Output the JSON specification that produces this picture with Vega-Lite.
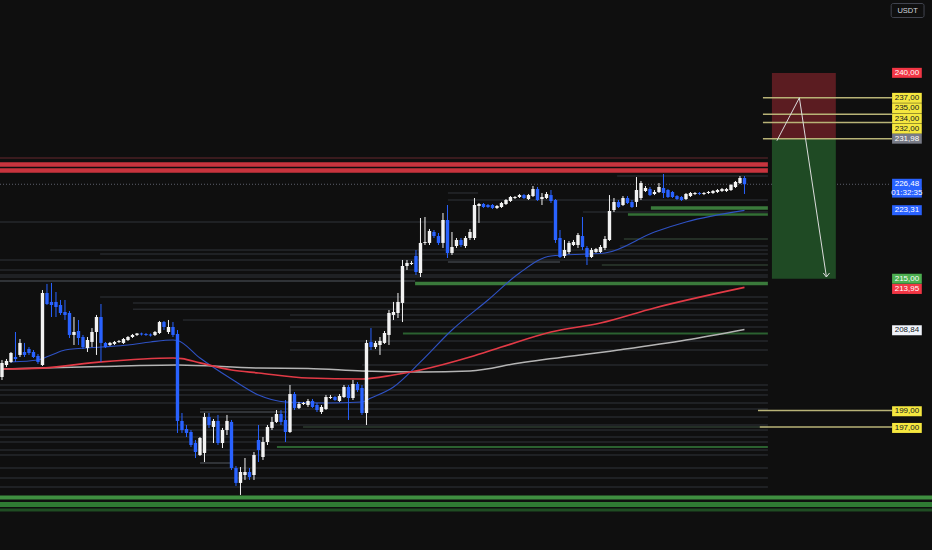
{
  "$schema": "https://vega.github.io/schema/vega-lite/v6.json",
  "description": "Candlestick chart with levels, moving averages and a short position box",
  "width": 932,
  "height": 550,
  "autosize": {"type": "none"},
  "padding": 0,
  "background": "#0f0f0f",
  "config": {"view": {"stroke": null}, "text": {"font": "Liberation Sans"}},
  "datasets": {
    "candles": [
      {"i":0,"o":203.06,"h":205.13,"l":202.70,"c":204.77},
      {"i":1,"o":204.52,"h":205.25,"l":204.28,"c":205.01},
      {"i":2,"o":204.89,"h":206.10,"l":204.77,"c":205.98},
      {"i":3,"o":205.49,"h":208.53,"l":204.89,"c":205.25},
      {"i":4,"o":205.74,"h":207.68,"l":205.49,"c":207.20},
      {"i":5,"o":206.10,"h":207.20,"l":205.49,"c":205.74},
      {"i":6,"o":206.46,"h":206.70,"l":205.74,"c":205.98},
      {"i":7,"o":206.10,"h":206.34,"l":205.37,"c":205.49},
      {"i":8,"o":205.62,"h":205.86,"l":204.65,"c":204.89},
      {"i":9,"o":204.52,"h":213.63,"l":204.40,"c":213.27},
      {"i":10,"o":213.27,"h":214.37,"l":211.81,"c":211.93},
      {"i":11,"o":212.18,"h":214.49,"l":210.35,"c":211.81},
      {"i":12,"o":212.18,"h":213.39,"l":210.35,"c":211.57},
      {"i":13,"o":211.81,"h":212.42,"l":210.60,"c":210.84},
      {"i":14,"o":210.96,"h":212.42,"l":209.99,"c":210.60},
      {"i":15,"o":210.84,"h":211.08,"l":207.80,"c":208.17},
      {"i":16,"o":208.17,"h":210.35,"l":206.95,"c":208.53},
      {"i":17,"o":208.65,"h":209.99,"l":206.95,"c":207.80},
      {"i":18,"o":207.92,"h":208.17,"l":206.46,"c":206.70},
      {"i":19,"o":206.58,"h":207.92,"l":206.10,"c":207.56},
      {"i":20,"o":207.32,"h":209.01,"l":206.70,"c":208.53},
      {"i":21,"o":208.53,"h":210.60,"l":205.74,"c":210.35},
      {"i":22,"o":210.35,"h":211.93,"l":204.89,"c":207.20},
      {"i":23,"o":207.20,"h":207.32,"l":206.58,"c":206.70},
      {"i":24,"o":206.95,"h":207.32,"l":206.83,"c":207.20},
      {"i":25,"o":207.08,"h":207.44,"l":206.95,"c":207.32},
      {"i":26,"o":207.32,"h":207.56,"l":207.20,"c":207.44},
      {"i":27,"o":207.20,"h":207.80,"l":207.08,"c":207.68},
      {"i":28,"o":207.56,"h":208.04,"l":207.44,"c":207.92},
      {"i":29,"o":207.92,"h":208.29,"l":207.80,"c":208.17},
      {"i":30,"o":208.17,"h":208.41,"l":208.04,"c":208.35},
      {"i":31,"o":208.35,"h":208.45,"l":208.10,"c":208.23},
      {"i":32,"o":208.29,"h":208.40,"l":208.05,"c":208.17},
      {"i":33,"o":208.23,"h":208.35,"l":207.98,"c":208.10},
      {"i":34,"o":208.17,"h":208.65,"l":208.04,"c":208.53},
      {"i":35,"o":208.41,"h":209.87,"l":208.29,"c":209.74},
      {"i":36,"o":209.74,"h":209.87,"l":208.77,"c":209.14},
      {"i":37,"o":208.53,"h":209.99,"l":208.29,"c":209.14},
      {"i":38,"o":209.14,"h":209.74,"l":207.92,"c":208.17},
      {"i":39,"o":208.29,"h":208.77,"l":196.26,"c":197.72},
      {"i":40,"o":197.72,"h":198.69,"l":196.26,"c":196.62},
      {"i":41,"o":196.74,"h":197.23,"l":195.77,"c":196.26},
      {"i":42,"o":196.38,"h":196.62,"l":194.56,"c":194.80},
      {"i":43,"o":195.04,"h":195.41,"l":193.22,"c":193.95},
      {"i":44,"o":193.58,"h":195.77,"l":193.46,"c":195.65},
      {"i":45,"o":193.83,"h":198.69,"l":192.73,"c":198.20},
      {"i":46,"o":198.20,"h":198.69,"l":196.87,"c":197.23},
      {"i":47,"o":196.99,"h":197.96,"l":195.04,"c":197.72},
      {"i":48,"o":197.72,"h":198.45,"l":194.80,"c":195.04},
      {"i":49,"o":195.04,"h":196.87,"l":194.43,"c":196.62},
      {"i":50,"o":196.62,"h":198.45,"l":196.01,"c":197.72},
      {"i":51,"o":197.60,"h":197.84,"l":191.76,"c":192.00},
      {"i":52,"o":192.00,"h":192.25,"l":189.82,"c":190.19},
      {"i":53,"o":190.19,"h":192.12,"l":188.73,"c":191.52},
      {"i":54,"o":191.15,"h":193.22,"l":190.55,"c":191.52},
      {"i":55,"o":191.52,"h":192.00,"l":190.55,"c":190.91},
      {"i":56,"o":191.15,"h":193.95,"l":190.55,"c":193.58},
      {"i":57,"o":195.41,"h":197.23,"l":192.73,"c":194.19},
      {"i":58,"o":193.34,"h":195.77,"l":192.98,"c":195.16},
      {"i":59,"o":195.16,"h":197.23,"l":194.80,"c":196.99},
      {"i":60,"o":196.87,"h":198.20,"l":196.62,"c":197.60},
      {"i":61,"o":197.60,"h":199.05,"l":197.47,"c":198.57},
      {"i":62,"o":198.57,"h":199.05,"l":197.23,"c":197.60},
      {"i":63,"o":197.84,"h":200.27,"l":195.16,"c":196.38},
      {"i":64,"o":196.38,"h":202.09,"l":196.26,"c":200.99},
      {"i":65,"o":200.99,"h":201.24,"l":199.05,"c":199.30},
      {"i":66,"o":199.30,"h":200.03,"l":199.17,"c":199.78},
      {"i":67,"o":199.78,"h":200.03,"l":199.66,"c":199.90},
      {"i":68,"o":199.66,"h":200.39,"l":199.42,"c":200.15},
      {"i":69,"o":200.15,"h":200.39,"l":199.30,"c":199.42},
      {"i":70,"o":199.66,"h":199.90,"l":198.81,"c":199.05},
      {"i":71,"o":198.81,"h":199.66,"l":198.57,"c":199.42},
      {"i":72,"o":199.17,"h":200.88,"l":199.05,"c":200.63},
      {"i":73,"o":200.51,"h":200.88,"l":200.39,"c":200.63},
      {"i":74,"o":200.63,"h":200.75,"l":200.15,"c":200.27},
      {"i":75,"o":200.15,"h":200.99,"l":200.03,"c":200.75},
      {"i":76,"o":200.63,"h":202.09,"l":200.51,"c":201.85},
      {"i":77,"o":201.85,"h":202.09,"l":197.84,"c":200.51},
      {"i":78,"o":200.51,"h":202.70,"l":200.27,"c":202.21},
      {"i":79,"o":202.21,"h":202.45,"l":201.24,"c":201.48},
      {"i":80,"o":201.73,"h":202.09,"l":198.45,"c":198.69},
      {"i":81,"o":198.69,"h":207.56,"l":197.23,"c":207.20},
      {"i":82,"o":207.32,"h":209.01,"l":206.34,"c":206.70},
      {"i":83,"o":206.70,"h":207.44,"l":206.46,"c":207.20},
      {"i":84,"o":206.95,"h":207.92,"l":205.74,"c":207.44},
      {"i":85,"o":207.20,"h":208.65,"l":207.08,"c":208.41},
      {"i":86,"o":208.17,"h":211.20,"l":206.95,"c":210.84},
      {"i":87,"o":210.60,"h":212.18,"l":209.99,"c":210.96},
      {"i":88,"o":210.84,"h":213.27,"l":210.23,"c":212.18},
      {"i":89,"o":212.06,"h":217.28,"l":209.74,"c":216.55},
      {"i":90,"o":216.55,"h":217.28,"l":216.06,"c":216.92},
      {"i":91,"o":216.79,"h":217.16,"l":216.67,"c":216.92},
      {"i":92,"o":217.77,"h":218.49,"l":215.46,"c":215.82},
      {"i":93,"o":215.70,"h":222.38,"l":215.21,"c":219.35},
      {"i":94,"o":219.35,"h":222.50,"l":219.10,"c":219.47},
      {"i":95,"o":219.35,"h":221.05,"l":219.10,"c":220.80},
      {"i":96,"o":220.68,"h":220.92,"l":219.95,"c":220.19},
      {"i":97,"o":220.19,"h":220.56,"l":219.10,"c":219.35},
      {"i":98,"o":219.35,"h":222.99,"l":218.74,"c":222.14},
      {"i":99,"o":222.14,"h":223.96,"l":217.52,"c":218.13},
      {"i":100,"o":218.13,"h":220.68,"l":217.89,"c":218.86},
      {"i":101,"o":218.98,"h":219.95,"l":218.74,"c":219.71},
      {"i":102,"o":219.71,"h":219.95,"l":218.86,"c":219.10},
      {"i":103,"o":218.98,"h":220.19,"l":218.74,"c":219.95},
      {"i":104,"o":219.95,"h":221.05,"l":219.71,"c":220.68},
      {"i":105,"o":219.95,"h":224.81,"l":219.71,"c":223.96},
      {"i":106,"o":223.84,"h":224.20,"l":221.78,"c":224.08},
      {"i":107,"o":224.08,"h":224.20,"l":223.60,"c":223.72},
      {"i":108,"o":223.96,"h":224.08,"l":223.60,"c":223.72},
      {"i":109,"o":223.96,"h":224.08,"l":223.47,"c":223.60},
      {"i":110,"o":223.60,"h":223.96,"l":223.47,"c":223.84},
      {"i":111,"o":223.72,"h":224.33,"l":223.60,"c":224.20},
      {"i":112,"o":224.08,"h":224.69,"l":223.96,"c":224.57},
      {"i":113,"o":224.45,"h":225.05,"l":224.33,"c":224.93},
      {"i":114,"o":224.81,"h":225.05,"l":224.69,"c":224.93},
      {"i":115,"o":224.93,"h":225.30,"l":224.81,"c":225.17},
      {"i":116,"o":225.17,"h":225.30,"l":224.69,"c":224.81},
      {"i":117,"o":224.69,"h":225.30,"l":224.57,"c":225.17},
      {"i":118,"o":225.05,"h":226.27,"l":224.93,"c":225.90},
      {"i":119,"o":225.90,"h":226.15,"l":224.45,"c":224.57},
      {"i":120,"o":224.69,"h":225.42,"l":223.96,"c":224.93},
      {"i":121,"o":224.81,"h":225.54,"l":224.69,"c":225.30},
      {"i":122,"o":225.17,"h":225.78,"l":224.20,"c":224.45},
      {"i":123,"o":224.57,"h":224.69,"l":219.35,"c":219.71},
      {"i":124,"o":219.95,"h":220.92,"l":217.52,"c":217.64},
      {"i":125,"o":217.77,"h":219.71,"l":217.52,"c":218.49},
      {"i":126,"o":218.25,"h":219.59,"l":218.01,"c":219.35},
      {"i":127,"o":219.10,"h":219.71,"l":218.98,"c":219.47},
      {"i":128,"o":219.10,"h":220.56,"l":218.74,"c":220.31},
      {"i":129,"o":220.19,"h":222.50,"l":218.49,"c":218.86},
      {"i":130,"o":218.74,"h":218.98,"l":216.67,"c":217.64},
      {"i":131,"o":217.64,"h":218.74,"l":217.52,"c":218.49},
      {"i":132,"o":218.25,"h":218.74,"l":218.13,"c":218.61},
      {"i":133,"o":218.25,"h":219.10,"l":218.13,"c":218.86},
      {"i":134,"o":218.74,"h":220.19,"l":218.49,"c":219.83},
      {"i":135,"o":219.71,"h":225.17,"l":219.59,"c":223.23},
      {"i":136,"o":223.35,"h":224.81,"l":223.11,"c":224.33},
      {"i":137,"o":224.33,"h":224.57,"l":223.60,"c":223.72},
      {"i":138,"o":223.96,"h":225.05,"l":223.84,"c":224.81},
      {"i":139,"o":224.81,"h":225.05,"l":224.08,"c":224.20},
      {"i":140,"o":224.33,"h":224.57,"l":223.60,"c":223.72},
      {"i":141,"o":224.33,"h":227.36,"l":223.72,"c":225.78},
      {"i":142,"o":224.81,"h":226.88,"l":224.57,"c":226.63},
      {"i":143,"o":225.66,"h":226.27,"l":225.54,"c":226.03},
      {"i":144,"o":225.90,"h":226.15,"l":225.05,"c":225.17},
      {"i":145,"o":225.30,"h":225.78,"l":225.17,"c":225.54},
      {"i":146,"o":225.54,"h":226.63,"l":225.42,"c":226.15},
      {"i":147,"o":226.03,"h":227.73,"l":224.81,"c":225.42},
      {"i":148,"o":225.78,"h":225.90,"l":224.81,"c":224.93},
      {"i":149,"o":225.54,"h":225.66,"l":224.81,"c":224.93},
      {"i":150,"o":225.05,"h":225.17,"l":224.57,"c":224.69},
      {"i":151,"o":224.93,"h":225.05,"l":224.45,"c":224.57},
      {"i":152,"o":224.69,"h":225.42,"l":224.57,"c":225.30},
      {"i":153,"o":225.05,"h":225.54,"l":224.93,"c":225.42},
      {"i":154,"o":225.30,"h":225.54,"l":225.17,"c":225.42},
      {"i":155,"o":225.42,"h":225.54,"l":225.17,"c":225.30},
      {"i":156,"o":225.30,"h":225.54,"l":225.17,"c":225.42},
      {"i":157,"o":225.42,"h":225.66,"l":225.30,"c":225.54},
      {"i":158,"o":225.42,"h":225.78,"l":225.30,"c":225.66},
      {"i":159,"o":225.54,"h":225.90,"l":225.42,"c":225.78},
      {"i":160,"o":225.66,"h":226.03,"l":225.54,"c":225.90},
      {"i":161,"o":225.66,"h":226.03,"l":225.54,"c":225.90},
      {"i":162,"o":225.78,"h":226.51,"l":225.66,"c":226.39},
      {"i":163,"o":226.15,"h":226.88,"l":226.03,"c":226.76},
      {"i":164,"o":226.63,"h":227.48,"l":226.51,"c":227.24},
      {"i":165,"o":227.24,"h":227.48,"l":225.30,"c":226.48}
    ],
    "averages": [
      {"i":2,"p":204.89,"ma":"fast"},{"i":8,"p":205.13,"ma":"fast"},{"i":11,"p":205.74,"ma":"fast"},
      {"i":14,"p":206.34,"ma":"fast"},{"i":22,"p":206.70,"ma":"fast"},{"i":28,"p":206.95,"ma":"fast"},
      {"i":33,"p":207.32,"ma":"fast"},{"i":38,"p":207.56,"ma":"fast"},{"i":39,"p":207.50,"ma":"fast"},
      {"i":44,"p":205.37,"ma":"fast"},{"i":51,"p":202.82,"ma":"fast"},{"i":57,"p":200.88,"ma":"fast"},
      {"i":63,"p":200.03,"ma":"fast"},{"i":72,"p":199.90,"ma":"fast"},{"i":80,"p":200.03,"ma":"fast"},
      {"i":82,"p":200.51,"ma":"fast"},{"i":87,"p":201.85,"ma":"fast"},{"i":93,"p":204.89,"ma":"fast"},
      {"i":100,"p":208.77,"ma":"fast"},{"i":108,"p":212.42,"ma":"fast"},{"i":115,"p":215.70,"ma":"fast"},
      {"i":122,"p":217.77,"ma":"fast"},{"i":130,"p":218.01,"ma":"fast"},{"i":134,"p":218.13,"ma":"fast"},
      {"i":145,"p":220.68,"ma":"fast"},{"i":152,"p":221.90,"ma":"fast"},{"i":165,"p":223.31,"ma":"fast"},
      {"i":0,"p":204.03,"ma":"mid"},{"i":9,"p":204.15,"ma":"mid"},{"i":22,"p":204.89,"ma":"mid"},
      {"i":38,"p":205.37,"ma":"mid"},{"i":40,"p":205.30,"ma":"mid"},{"i":44,"p":204.77,"ma":"mid"},
      {"i":51,"p":203.91,"ma":"mid"},{"i":57,"p":203.55,"ma":"mid"},{"i":68,"p":202.94,"ma":"mid"},
      {"i":80,"p":202.82,"ma":"mid"},{"i":87,"p":203.30,"ma":"mid"},{"i":93,"p":203.91,"ma":"mid"},
      {"i":104,"p":205.49,"ma":"mid"},{"i":111,"p":206.70,"ma":"mid"},{"i":122,"p":208.53,"ma":"mid"},
      {"i":133,"p":209.62,"ma":"mid"},{"i":145,"p":211.45,"ma":"mid"},{"i":165,"p":213.95,"ma":"mid"},
      {"i":0,"p":204.03,"ma":"slow"},{"i":22,"p":204.34,"ma":"slow"},{"i":39,"p":204.52,"ma":"slow"},
      {"i":57,"p":204.15,"ma":"slow"},{"i":68,"p":204.10,"ma":"slow"},{"i":80,"p":203.79,"ma":"slow"},
      {"i":93,"p":203.67,"ma":"slow"},{"i":104,"p":203.79,"ma":"slow"},{"i":115,"p":204.77,"ma":"slow"},
      {"i":137,"p":206.34,"ma":"slow"},{"i":152,"p":207.56,"ma":"slow"},{"i":165,"p":208.84,"ma":"slow"}
    ],
    "levels": [
      {"p":218.49,"from":10.7,"to":170.2,"kind":"faint"},
      {"p":218.01,"from":21.8,"to":170.2,"kind":"faint"},
      {"p":217.28,"from":-0.44,"to":170.2,"kind":"faint"},
      {"p":216.06,"from":-0.44,"to":170.2,"kind":"faint"},
      {"p":215.46,"from":-0.44,"to":170.2,"kind":"faint"},
      {"p":214.73,"from":-0.44,"to":91.8,"kind":"mid"},
      {"p":212.79,"from":21.8,"to":170.2,"kind":"faint"},
      {"p":212.06,"from":29.1,"to":170.2,"kind":"faint"},
      {"p":211.30,"from":29.1,"to":170.2,"kind":"faint"},
      {"p":209.99,"from":40.2,"to":170.2,"kind":"faint"},
      {"p":209.14,"from":64,"to":170.2,"kind":"faint"},
      {"p":210.60,"from":64,"to":170.2,"kind":"faint"},
      {"p":207.44,"from":64,"to":170.2,"kind":"faint"},
      {"p":206.34,"from":64,"to":170.2,"kind":"faint"},
      {"p":204.52,"from":80,"to":170.2,"kind":"faint"},
      {"p":202.09,"from":-0.44,"to":170.2,"kind":"faint"},
      {"p":201.48,"from":-0.44,"to":170.2,"kind":"faint"},
      {"p":200.88,"from":-0.44,"to":170.2,"kind":"faint"},
      {"p":199.90,"from":-0.44,"to":170.2,"kind":"faint"},
      {"p":199.17,"from":44,"to":170.2,"kind":"faint"},
      {"p":198.81,"from":44,"to":63.3,"kind":"mid"},
      {"p":198.20,"from":-0.44,"to":170.2,"kind":"faint"},
      {"p":197.23,"from":-0.44,"to":170.2,"kind":"faint"},
      {"p":196.62,"from":-0.44,"to":170.2,"kind":"faint"},
      {"p":195.77,"from":-0.44,"to":170.2,"kind":"faint"},
      {"p":195.16,"from":-0.44,"to":170.2,"kind":"faint"},
      {"p":194.19,"from":-0.44,"to":170.2,"kind":"faint"},
      {"p":193.58,"from":-0.44,"to":170.2,"kind":"faint"},
      {"p":192.61,"from":44,"to":51.3,"kind":"mid"},
      {"p":192.00,"from":-0.44,"to":170.2,"kind":"faint"},
      {"p":190.79,"from":-0.44,"to":170.2,"kind":"faint"},
      {"p":189.70,"from":-0.44,"to":170.2,"kind":"faint"},
      {"p":227.49,"from":136.7,"to":170.2,"kind":"faint"},
      {"p":225.42,"from":99.1,"to":105.8,"kind":"faint"},
      {"p":224.57,"from":99.1,"to":170.2,"kind":"faint"},
      {"p":223.11,"from":129.1,"to":170.2,"kind":"faint"},
      {"p":221.90,"from":-0.44,"to":122.4,"kind":"faint"},
      {"p":219.83,"from":138.2,"to":170.2,"kind":"sage"},
      {"p":218.98,"from":137.3,"to":170.2,"kind":"faint"},
      {"p":217.04,"from":99.1,"to":124,"kind":"mid"},
      {"p":216.67,"from":133.3,"to":170.2,"kind":"sage"},
      {"p":215.21,"from":-0.44,"to":170.2,"kind":"faint"},
      {"p":196.99,"from":66.9,"to":170.2,"kind":"sage"},
      {"p":229.67,"from":-0.44,"to":170.2,"kind":"redfaint"},
      {"p":223.59,"from":144.2,"to":170.2,"kind":"green"},
      {"p":222.81,"from":139.1,"to":170.2,"kind":"greenmid"},
      {"p":214.42,"from":91.8,"to":170.2,"kind":"green"},
      {"p":208.35,"from":89.1,"to":170.2,"kind":"greenthin"},
      {"p":194.56,"from":61.1,"to":170.2,"kind":"greenthin"},
      {"p":188.42,"from":-0.44,"to":206.67,"kind":"bot1"},
      {"p":187.57,"from":-0.44,"to":206.67,"kind":"bot2"},
      {"p":186.91,"from":-0.44,"to":206.67,"kind":"bot3"},
      {"p":228.88,"from":-0.44,"to":170.2,"kind":"red"},
      {"p":228.14,"from":-0.44,"to":170.2,"kind":"red"}
    ],
    "targets": [
      {"p":237,"from":169.1},
      {"p":235,"from":169.1},
      {"p":234,"from":169.1},
      {"p":232,"from":169.1},
      {"p":199,"from":168.0},
      {"p":197,"from":168.4}
    ],
    "zones": [
      {"top":240,"bot":231.98,"z":"stop"},
      {"top":231.98,"bot":215,"z":"target"}
    ],
    "arrow": [
      {"s":"path","k":0,"x":172.2,"p":231.77},
      {"s":"path","k":1,"x":177.2,"p":236.99},
      {"s":"path","k":2,"x":183.2,"p":215.25},
      {"s":"head","k":0,"x":182.5,"p":215.70},
      {"s":"head","k":1,"x":183.2,"p":215.21},
      {"s":"head","k":2,"x":183.9,"p":215.70}
    ],
    "labels": [
      {"t":"240,00","at":240.02,"k":"red"},
      {"t":"237,00","at":236.98,"k":"yellow"},
      {"t":"235,00","at":235.72,"k":"yellow"},
      {"t":"234,00","at":234.47,"k":"yellow"},
      {"t":"232,00","at":233.22,"k":"yellow"},
      {"t":"231,98","at":232.02,"k":"grey"},
      {"t":"226,48","at":226.54,"k":"blue"},
      {"t":"01:32:35","at":225.47,"k":"blue"},
      {"t":"223,31","at":223.33,"k":"blue"},
      {"t":"215,00","at":215.00,"k":"green"},
      {"t":"213,95","at":213.76,"k":"red"},
      {"t":"208,84","at":208.74,"k":"white"},
      {"t":"199,00","at":198.90,"k":"yellow"},
      {"t":"197,00","at":196.87,"k":"yellow"}
    ]
  },
  "resolve": {"scale": {"color": "independent"}},
  "layer": [
    {
      "data": {"name": "levels"},
      "transform": [{"filter": "indexof(['faint','mid','sage','redfaint'], datum.kind) >= 0"}],
      "mark": {"type": "rule", "strokeCap": "butt", "strokeWidth": 1.5},
      "encoding": {
        "x": {"field": "from", "type": "quantitative", "scale": {"domain": [-0.44, 206.67], "nice": false, "zero": false, "padding": 0}, "axis": null},
        "x2": {"field": "to"},
        "y": {"field": "p", "type": "quantitative", "scale": {"domain": [182.04, 248.87], "nice": false, "zero": false}, "axis": null},
        "color": {
          "field": "kind", "type": "nominal", "legend": null,
          "scale": {"domain": ["faint", "mid", "sage", "redfaint"], "range": ["#26282c", "#3d4046", "#2c3b2f", "#4a2024"]}
        }
      }
    },
    {
      "data": {"name": "levels"},
      "transform": [{"filter": "datum.kind === 'greenthin'"}],
      "mark": {"type": "rule", "strokeCap": "butt", "strokeWidth": 2, "color": "#2b6130"},
      "encoding": {
        "x": {"field": "from", "type": "quantitative", "axis": null},
        "x2": {"field": "to"},
        "y": {"field": "p", "type": "quantitative", "axis": null}
      }
    },
    {
      "data": {"name": "levels"},
      "transform": [{"filter": "datum.kind === 'greenmid'"}],
      "mark": {"type": "rule", "strokeCap": "butt", "strokeWidth": 2.5, "color": "#336f35"},
      "encoding": {
        "x": {"field": "from", "type": "quantitative", "axis": null},
        "x2": {"field": "to"},
        "y": {"field": "p", "type": "quantitative", "axis": null}
      }
    },
    {
      "data": {"name": "levels"},
      "transform": [{"filter": "datum.kind === 'green'"}],
      "mark": {"type": "rule", "strokeCap": "butt", "strokeWidth": 3.5, "color": "#3a7a3b"},
      "encoding": {
        "x": {"field": "from", "type": "quantitative", "axis": null},
        "x2": {"field": "to"},
        "y": {"field": "p", "type": "quantitative", "axis": null}
      }
    },
    {
      "data": {"name": "levels"},
      "transform": [{"filter": "datum.kind === 'bot1'"}],
      "mark": {"type": "rule", "strokeCap": "butt", "strokeWidth": 4, "color": "#3f8f40"},
      "encoding": {
        "x": {"field": "from", "type": "quantitative", "axis": null},
        "x2": {"field": "to"},
        "y": {"field": "p", "type": "quantitative", "axis": null}
      }
    },
    {
      "data": {"name": "levels"},
      "transform": [{"filter": "datum.kind === 'bot2'"}],
      "mark": {"type": "rule", "strokeCap": "butt", "strokeWidth": 5, "color": "#2f7a33"},
      "encoding": {
        "x": {"field": "from", "type": "quantitative", "axis": null},
        "x2": {"field": "to"},
        "y": {"field": "p", "type": "quantitative", "axis": null}
      }
    },
    {
      "data": {"name": "levels"},
      "transform": [{"filter": "datum.kind === 'bot3'"}],
      "mark": {"type": "rule", "strokeCap": "butt", "strokeWidth": 3, "color": "#1f4d23"},
      "encoding": {
        "x": {"field": "from", "type": "quantitative", "axis": null},
        "x2": {"field": "to"},
        "y": {"field": "p", "type": "quantitative", "axis": null}
      }
    },
    {
      "data": {"name": "levels"},
      "transform": [{"filter": "datum.kind === 'red'"}],
      "mark": {"type": "rule", "strokeCap": "butt", "strokeWidth": 4.5, "color": "#c8343e"},
      "encoding": {
        "x": {"field": "from", "type": "quantitative", "axis": null},
        "x2": {"field": "to"},
        "y": {"field": "p", "type": "quantitative", "axis": null}
      }
    },
    {
      "data": {"values": [{"p": 226.48}]},
      "mark": {"type": "rule", "color": "#5d606b", "strokeDash": [1, 2], "strokeWidth": 1},
      "encoding": {
        "x": {"datum": -0.44, "type": "quantitative", "axis": null},
        "x2": {"datum": 197.3},
        "y": {"field": "p", "type": "quantitative", "axis": null}
      }
    },
    {
      "data": {"name": "averages"},
      "transform": [{"filter": "datum.ma === 'fast'"}],
      "mark": {"type": "line", "interpolate": "monotone", "color": "#2f52c4", "strokeWidth": 1.1},
      "encoding": {
        "x": {"field": "i", "type": "quantitative", "axis": null},
        "y": {"field": "p", "type": "quantitative", "axis": null}
      }
    },
    {
      "data": {"name": "averages"},
      "transform": [{"filter": "datum.ma === 'slow'"}],
      "mark": {"type": "line", "interpolate": "monotone", "color": "#b4b4b4", "strokeWidth": 1.5},
      "encoding": {
        "x": {"field": "i", "type": "quantitative", "axis": null},
        "y": {"field": "p", "type": "quantitative", "axis": null}
      }
    },
    {
      "data": {"name": "averages"},
      "transform": [{"filter": "datum.ma === 'mid'"}],
      "mark": {"type": "line", "interpolate": "monotone", "color": "#e23a46", "strokeWidth": 1.7},
      "encoding": {
        "x": {"field": "i", "type": "quantitative", "axis": null},
        "y": {"field": "p", "type": "quantitative", "axis": null}
      }
    },
    {
      "data": {"name": "candles"},
      "mark": {"type": "rule", "strokeWidth": 1},
      "encoding": {
        "x": {"field": "i", "type": "quantitative", "axis": null},
        "y": {"field": "l", "type": "quantitative", "axis": null},
        "y2": {"field": "h"},
        "color": {"condition": {"test": "datum.c >= datum.o", "value": "#f2f2f2"}, "value": "#2962ff"}
      }
    },
    {
      "data": {"name": "candles"},
      "mark": {"type": "bar", "width": 3.4},
      "encoding": {
        "x": {"field": "i", "type": "quantitative", "scale": {"domain": [-0.44, 206.67], "nice": false, "zero": false, "padding": 0}, "axis": null},
        "y": {"field": "o", "type": "quantitative", "axis": null},
        "y2": {"field": "c"},
        "color": {"condition": {"test": "datum.c >= datum.o", "value": "#f2f2f2"}, "value": "#2962ff"}
      }
    },
    {
      "data": {"name": "zones"},
      "mark": {"type": "rect"},
      "encoding": {
        "x": {"datum": 171.1, "type": "quantitative", "axis": null},
        "x2": {"datum": 185.3},
        "y": {"field": "top", "type": "quantitative", "axis": null},
        "y2": {"field": "bot"},
        "color": {
          "field": "z", "type": "nominal", "legend": null,
          "scale": {"domain": ["stop", "target"], "range": ["#5b1c21", "#1f4a24"]}
        }
      }
    },
    {
      "data": {"name": "targets"},
      "mark": {"type": "rule", "color": "#b8b377", "strokeWidth": 1.5},
      "encoding": {
        "x": {"field": "from", "type": "quantitative", "axis": null},
        "x2": {"datum": 197.8},
        "y": {"field": "p", "type": "quantitative", "axis": null}
      }
    },
    {
      "data": {"name": "arrow"},
      "mark": {"type": "line", "color": "#dcdcdc", "strokeWidth": 1},
      "encoding": {
        "x": {"field": "x", "type": "quantitative", "axis": null},
        "y": {"field": "p", "type": "quantitative", "axis": null},
        "detail": {"field": "s"},
        "order": {"field": "k"}
      }
    },
    {
      "data": {"name": "labels"},
      "mark": {"type": "rule", "strokeWidth": 10, "strokeCap": "butt"},
      "encoding": {
        "x": {"datum": 197.8, "type": "quantitative", "axis": null},
        "x2": {"datum": 204.4},
        "y": {"field": "at", "type": "quantitative", "axis": null},
        "color": {
          "field": "k", "type": "nominal", "legend": null,
          "scale": {
            "domain": ["red", "yellow", "grey", "blue", "green", "white"],
            "range": ["#f23645", "#f5e73f", "#787b86", "#2962ff", "#4caf50", "#f0f3fa"]
          }
        }
      }
    },
    {
      "data": {"name": "labels"},
      "mark": {"type": "text", "fontSize": 8, "align": "center", "baseline": "middle"},
      "encoding": {
        "x": {"datum": 201.1, "type": "quantitative", "axis": null},
        "y": {"field": "at", "type": "quantitative", "axis": null},
        "text": {"field": "t"},
        "color": {
          "field": "k", "type": "nominal", "legend": null,
          "scale": {
            "domain": ["red", "yellow", "grey", "blue", "green", "white"],
            "range": ["#ffffff", "#131722", "#ffffff", "#ffffff", "#ffffff", "#131722"]
          }
        }
      }
    },
    {
      "data": {"values": [{"t": "USDT"}]},
      "mark": {"type": "rect", "fill": "#0f0f0f", "stroke": "#434651", "strokeWidth": 1, "cornerRadius": 2},
      "encoding": {
        "x": {"datum": 197.6, "type": "quantitative", "axis": null},
        "x2": {"datum": 204.9},
        "y": {"datum": 248.44, "type": "quantitative", "axis": null},
        "y2": {"datum": 246.74}
      }
    },
    {
      "data": {"values": [{"t": "USDT"}]},
      "mark": {"type": "text", "fontSize": 7.5, "align": "center", "baseline": "middle", "color": "#d1d4dc"},
      "encoding": {
        "x": {"datum": 201.25, "type": "quantitative", "axis": null},
        "y": {"datum": 247.59, "type": "quantitative", "axis": null},
        "text": {"field": "t"}
      }
    }
  ]
}
